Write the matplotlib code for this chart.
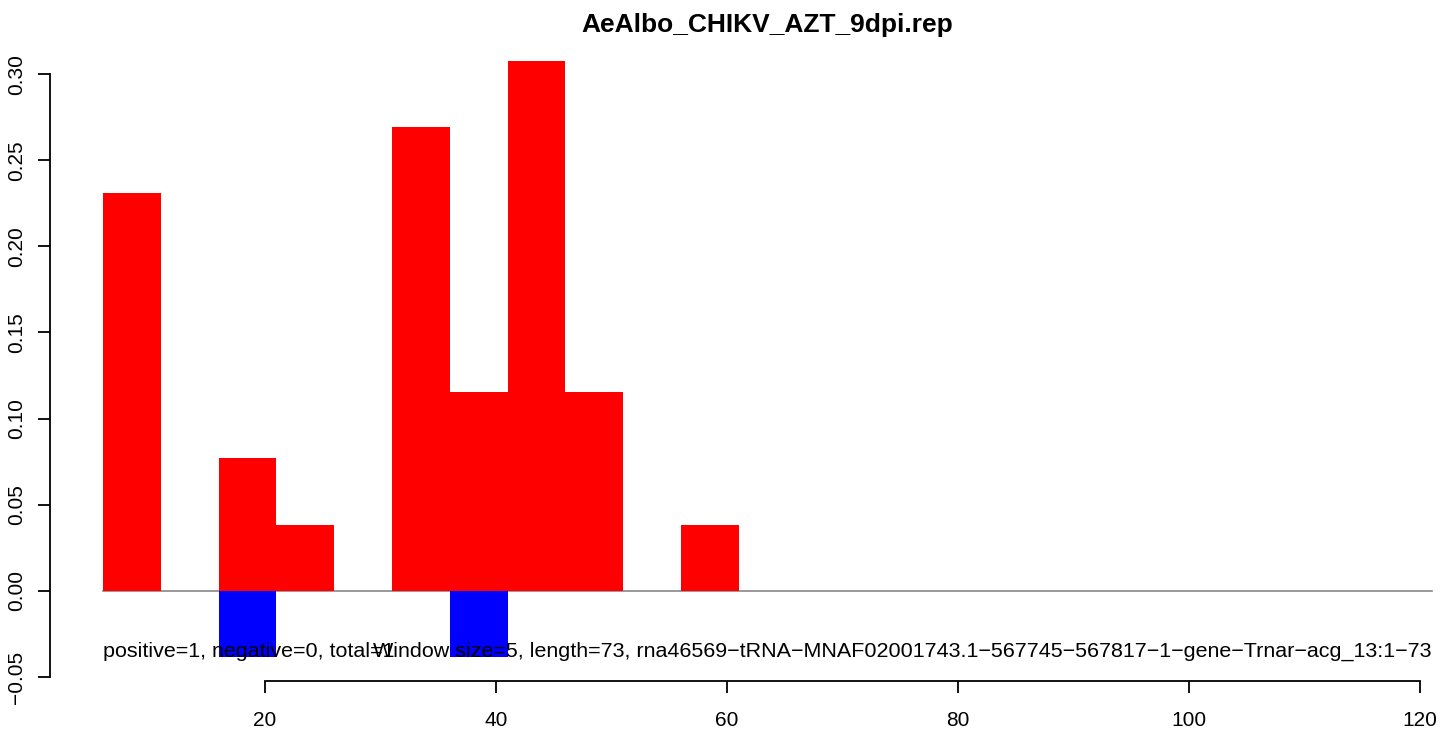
import matplotlib
matplotlib.use("Agg")
import matplotlib.pyplot as plt

plt.rcParams['font.family'] = ['Liberation Sans', 'DejaVu Sans']

# window starts (window size 5) and fractions per strand
pos_starts = [6, 16, 21, 31, 36, 41, 46, 56]
pos_values = [0.2308, 0.0769, 0.0385, 0.2692, 0.1154, 0.3077, 0.1154, 0.0385]
neg_starts = [16, 36]
neg_values = [-0.0385, -0.0385]
window = 5
line_start, line_end = 6, 121
x_ticks = [20, 40, 60, 80, 100, 120]
y_ticks = [-0.05, 0.00, 0.05, 0.10, 0.15, 0.20, 0.25, 0.30]
title = "AeAlbo_CHIKV_AZT_9dpi.rep"
left_note = "positive=1, negative=0, total=1"
right_note = "Window size=5, length=73, rna46569\u2212tRNA\u2212MNAF02001743.1\u2212567745\u2212567817\u22121\u2212gene\u2212Trnar\u2212acg_13:1\u221273"
note_y = -0.035

fig = plt.figure(figsize=(14.44, 7.32), dpi=100)
ax = fig.add_axes([50 / 1444, (732 - 681) / 732, 1435 / 1444, 644 / 732])

ax.plot([line_start, line_end], [0, 0], color='#888888', lw=1.2, zorder=1)
ax.bar(pos_starts, pos_values, width=window, align='edge', color='red', linewidth=0, zorder=2)
ax.bar(neg_starts, neg_values, width=window, align='edge', color='blue', linewidth=0, zorder=2)

# R style 4% padding
xr = line_end - line_start
ax.set_xlim(line_start - 0.04 * xr, line_end + 0.04 * xr)
ymin, ymax = min(neg_values), max(pos_values)
yr = ymax - ymin
ax.set_ylim(ymin - 0.04 * yr, ymax + 0.04 * yr)

ax.text(line_start, note_y, left_note, ha='left', va='center', fontsize=15.45, zorder=3)
ax.text(line_end, note_y, right_note, ha='right', va='center', fontsize=15.45, zorder=3)

for s in ['top', 'right']:
    ax.spines[s].set_visible(False)
ax.spines['left'].set_bounds(y_ticks[0], y_ticks[-1])
ax.spines['bottom'].set_bounds(x_ticks[0], x_ticks[-1])
for s in ['left', 'bottom']:
    ax.spines[s].set_linewidth(1.3)
ax.set_xticks(x_ticks)
ax.set_xticklabels([str(t) for t in x_ticks])
ax.set_yticks(y_ticks)
ax.set_yticklabels([f"{t:.2f}".replace('-', '\u2212') for t in y_ticks], rotation=90, va='center')
ax.tick_params(axis='both', length=8.5, width=1.3, labelsize=15, direction='out')
ax.tick_params(axis='x', pad=13)
ax.tick_params(axis='y', pad=9)
ax.patch.set_visible(False)

fig.text(767 / 1444, 1 - 25 / 732, title, ha='center', va='center', fontsize=19, fontweight='bold')

fig.savefig("out.png", dpi=100)
